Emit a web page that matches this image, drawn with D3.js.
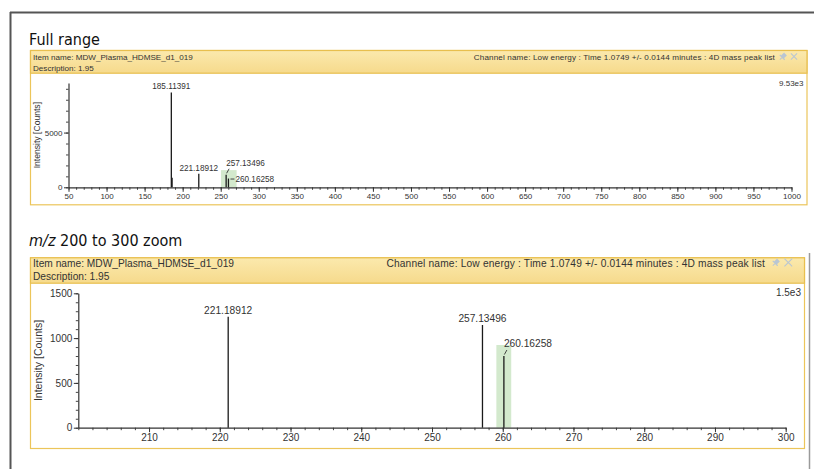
<!DOCTYPE html>
<html>
<head>
<meta charset="utf-8">
<script src="https://cdn.jsdelivr.net/npm/d3@7"></script>
<style>
  html, body { margin: 0; padding: 0; background: #fff; }
  svg { display: block; }
  .ui { font-family: "Liberation Sans", Arial, sans-serif; fill: #333; }
  .ttl { font-family: "DejaVu Sans Condensed", "DejaVu Sans", sans-serif; font-stretch: condensed; fill: #111; }
</style>
</head>
<body>
<svg id="chart" width="814" height="469"></svg>
<script>
// ---------------- data ----------------
const panelTitles = ["Full range", "200 to 300 zoom"];
const titlePrefix = ["", "m/z"];
const itemName = "Item name: MDW_Plasma_HDMSE_d1_019";
const description = "Description: 1.95";
const channelText = "Channel name: Low energy : Time 1.0749 +/- 0.0144 minutes : 4D mass peak list";
const scaleMaxLabels = ["9.53e3", "1.5e3"];
const yAxisTitle = "Intensity [Counts]";

const peakMz        = [185.11391, 186.117, 221.18912, 257.13496, 260.16258];
const peakIntensity = [8664,      880,     1239,      1146,      800];
const peakLabels    = ["185.11391", "", "221.18912", "257.13496", "260.16258"];

const fullXDomain = [50, 1000];
const fullYMax = 9530;
const fullXTicks = [50, 100, 150, 200, 250, 300, 350, 400, 450, 500, 550, 600, 650, 700, 750, 800, 850, 900, 950, 1000];
const fullYTicks = [0, 5000];

const zoomXDomain = [200, 300];
const zoomYMax = 1500;
const zoomXTicks = [210, 220, 230, 240, 250, 260, 270, 280, 290, 300];
const zoomYTicks = [0, 500, 1000, 1500];

// highlighted (selected) peak window: [mz from, mz to, intensity top]
const fullHighlight = [250.3, 270.9, 1570];
const zoomHighlight = [259.1, 261.2, 923];

// ---------------- layout ----------------
const panels = [
  {
    title: panelTitles[0], prefix: titlePrefix[0], titleY: 45,
    box: { x0: 30, x1: 806.5, y0: 50, yh: 72.7, y1: 204.3 },
    hdr: { l1: 59.8, l2: 70.8, fs: 8.1, chanLs: 0.14, chanRight: 775, pinX: 783, xX: 794, iconY: 56.5 },
    scaleLabel: scaleMaxLabels[0], scaleY: 85.5, scaleFs: 8,
    xr: [68.5, 791.5], yr: [187.3, 83],
    xDomain: fullXDomain, yMax: fullYMax,
    xTicks: fullXTicks, xMinorStep: 10, yTicks: fullYTicks, yMinorStep: 1000,
    tickFs: 8, labelFs: 8.2, axisTitleFs: 8.6, axisTitleX: 37,
    hl: fullHighlight,
    placement: ["above", "none", "above", "leaderUp", "leaderSide"]
  },
  {
    title: panelTitles[1], prefix: titlePrefix[1], titleY: 246,
    box: { x0: 30, x1: 804, y0: 257.3, yh: 282.7, y1: 448 },
    hdr: { l1: 266.5, l2: 280, fs: 10.2, chanLs: 0.17, chanRight: 765, pinX: 776, xX: 788.3, iconY: 262.5 },
    scaleLabel: scaleMaxLabels[1], scaleY: 295.5, scaleFs: 10,
    xr: [78.3, 785.7], yr: [427.7, 293.3],
    xDomain: zoomXDomain, yMax: zoomYMax,
    xTicks: zoomXTicks, xMinorStep: 2, yTicks: zoomYTicks, yMinorStep: 100,
    tickFs: 10, labelFs: 10.2, axisTitleFs: 10.5, axisTitleX: 37.5,
    hl: zoomHighlight,
    placement: ["above", "none", "above", "above", "leaderUp"]
  }
];

const svg = d3.select("#chart");

// gradient for panel headers
const defs = svg.append("defs");
const grad = defs.append("linearGradient").attr("id", "hdrGrad").attr("x1", 0).attr("y1", 0).attr("x2", 0).attr("y2", 1);
grad.append("stop").attr("offset", "0%").attr("stop-color", "#fbe9ad");
grad.append("stop").attr("offset", "100%").attr("stop-color", "#f6da8c");

// outer window frame
svg.append("line").attr("x1", 10).attr("x2", 814).attr("y1", 12.5).attr("y2", 12.5)
  .attr("stroke", "#555").attr("stroke-width", 2);
svg.append("line").attr("x1", 10.5).attr("x2", 10.5).attr("y1", 12).attr("y2", 469)
  .attr("stroke", "#555").attr("stroke-width", 2);
svg.append("line").attr("x1", 809.5).attr("x2", 809.5).attr("y1", 253).attr("y2", 469)
  .attr("stroke", "#9a9a9a").attr("stroke-width", 1.5);

panels.forEach(p => {
  const g = svg.append("g");

  // title
  const t = g.append("text").attr("class", "ttl").attr("x", 29).attr("y", p.titleY).attr("font-size", 16);
  if (p.prefix) {
    t.append("tspan").attr("font-style", "italic").text(p.prefix);
    t.append("tspan").text(" " + p.title);
  } else {
    t.text(p.title);
  }

  const b = p.box;
  // panel body
  g.append("rect").attr("x", b.x0 + 0.5).attr("y", b.y0 + 0.5)
    .attr("width", b.x1 - b.x0).attr("height", b.y1 - b.y0)
    .attr("fill", "#fff").attr("stroke", "#ecc55a").attr("stroke-width", 1.2);
  // header
  g.append("rect").attr("x", b.x0 + 0.5).attr("y", b.y0 + 0.5)
    .attr("width", b.x1 - b.x0).attr("height", b.yh - b.y0)
    .attr("fill", "url(#hdrGrad)").attr("stroke", "#e8bf4e").attr("stroke-width", 1.2);

  const h = p.hdr;
  g.append("text").attr("class", "ui").attr("x", b.x0 + 3).attr("y", h.l1).attr("font-size", h.fs).text(itemName);
  g.append("text").attr("class", "ui").attr("x", b.x0 + 3).attr("y", h.l2).attr("font-size", h.fs).text(description);
  g.append("text").attr("class", "ui").attr("x", h.chanRight).attr("y", h.l1).attr("font-size", h.fs)
    .attr("letter-spacing", h.chanLs).attr("text-anchor", "end").text(channelText);
  // pin icon
  const pin = g.append("g").attr("transform", `translate(${h.pinX},${h.iconY}) rotate(45)`);
  pin.append("rect").attr("x", -2).attr("y", -3.5).attr("width", 4).attr("height", 4.5).attr("fill", "#b9c6d3");
  pin.append("rect").attr("x", -3.5).attr("y", 0.5).attr("width", 7).attr("height", 1.2).attr("fill", "#b9c6d3");
  pin.append("line").attr("x1", 0).attr("x2", 0).attr("y1", 1.5).attr("y2", 4.5).attr("stroke", "#b9c6d3").attr("stroke-width", 1);
  // close cross
  const cs = h.fs * 0.38;
  g.append("path").attr("d", `M${h.xX - cs},${h.iconY - cs}L${h.xX + cs},${h.iconY + cs}M${h.xX + cs},${h.iconY - cs}L${h.xX - cs},${h.iconY + cs}`)
    .attr("stroke", "#b9c6d3").attr("stroke-width", 1.1);

  // scale max label
  g.append("text").attr("class", "ui").attr("x", b.x1 - 3).attr("y", p.scaleY).attr("font-size", p.scaleFs)
    .attr("text-anchor", "end").text(p.scaleLabel);

  // scales
  const x = d3.scaleLinear().domain(p.xDomain).range(p.xr);
  const y = d3.scaleLinear().domain([0, p.yMax]).range(p.yr);

  // highlight
  g.append("rect")
    .attr("x", x(p.hl[0])).attr("width", x(p.hl[1]) - x(p.hl[0]))
    .attr("y", y(p.hl[2])).attr("height", y(0) - y(p.hl[2]))
    .attr("fill", "#d3e9cd");

  // minor ticks
  const xMinor = d3.range(p.xDomain[0], p.xDomain[1] + 1e-9, p.xMinorStep);
  const yMinor = d3.range(0, p.yMax + 1e-9, p.yMinorStep);
  g.append("g").attr("transform", `translate(0,${p.yr[0]})`)
    .call(d3.axisBottom(x).tickValues(xMinor).tickSize(2.5).tickFormat(""))
    .call(a => a.select(".domain").remove())
    .call(a => a.selectAll("line").attr("stroke", "#444"));
  g.append("g").attr("transform", `translate(${p.xr[0]},0)`)
    .call(d3.axisLeft(y).tickValues(yMinor).tickSize(2.5).tickFormat(""))
    .call(a => a.select(".domain").remove())
    .call(a => a.selectAll("line").attr("stroke", "#444"));

  // major axes
  const xa = g.append("g").attr("transform", `translate(0,${p.yr[0]})`)
    .call(d3.axisBottom(x).tickValues(p.xTicks).tickSize(4.5).tickSizeOuter(0).tickPadding(1.5).tickFormat(d3.format("d")));
  xa.select(".domain").attr("stroke", "#333").attr("stroke-width", 1.2);
  xa.selectAll("line").attr("stroke", "#333");
  xa.selectAll("text").attr("class", "ui").attr("font-size", p.tickFs).attr("fill", "#333");

  const ya = g.append("g").attr("transform", `translate(${p.xr[0]},0)`)
    .call(d3.axisLeft(y).tickValues(p.yTicks).tickSize(4.5).tickSizeOuter(0).tickPadding(1.5).tickFormat(d3.format("d")));
  ya.select(".domain").attr("stroke", "#333").attr("stroke-width", 1.2);
  ya.selectAll("line").attr("stroke", "#333");
  ya.selectAll("text").attr("class", "ui").attr("font-size", p.tickFs).attr("fill", "#333");

  // axis title
  g.append("text").attr("class", "ui")
    .attr("transform", `translate(${p.axisTitleX},${(p.yr[0] + p.yr[1]) / 2}) rotate(-90)`)
    .attr("text-anchor", "middle").attr("dominant-baseline", "central")
    .attr("font-size", p.axisTitleFs).attr("fill", "#444").text(yAxisTitle);

  // peaks
  const idx = d3.range(peakMz.length).filter(i => peakMz[i] >= p.xDomain[0] && peakMz[i] <= p.xDomain[1]);
  g.append("g").selectAll("line").data(idx).join("line")
    .attr("x1", i => x(peakMz[i])).attr("x2", i => x(peakMz[i]))
    .attr("y1", y(0)).attr("y2", i => y(peakIntensity[i]))
    .attr("stroke", "#1a1a1a").attr("stroke-width", 1.3);

  // peak labels
  idx.forEach(i => {
    const mode = p.placement[i];
    if (mode === "none" || !peakLabels[i]) return;
    const px = x(peakMz[i]), py = y(peakIntensity[i]);
    if (mode === "above") {
      g.append("text").attr("class", "ui").attr("x", px).attr("y", py - 3)
        .attr("text-anchor", "middle").attr("font-size", p.labelFs).text(peakLabels[i]);
    } else if (mode === "leaderUp") {
      g.append("line").attr("x1", px + 0.5).attr("y1", py - 1.5).attr("x2", px + 3).attr("y2", py - 6)
        .attr("stroke", "#333").attr("stroke-width", 0.9);
      g.append("text").attr("class", "ui").attr("x", px).attr("y", py - 9)
        .attr("font-size", p.labelFs).text(peakLabels[i]);
    } else if (mode === "leaderSide") {
      g.append("line").attr("x1", px + 2).attr("y1", py + 0.5).attr("x2", px + 6).attr("y2", py + 0.5)
        .attr("stroke", "#333").attr("stroke-width", 0.9);
      g.append("text").attr("class", "ui").attr("x", px + 7).attr("y", py + 3.5)
        .attr("font-size", p.labelFs).text(peakLabels[i]);
    }
  });
});
</script>
</body>
</html>
